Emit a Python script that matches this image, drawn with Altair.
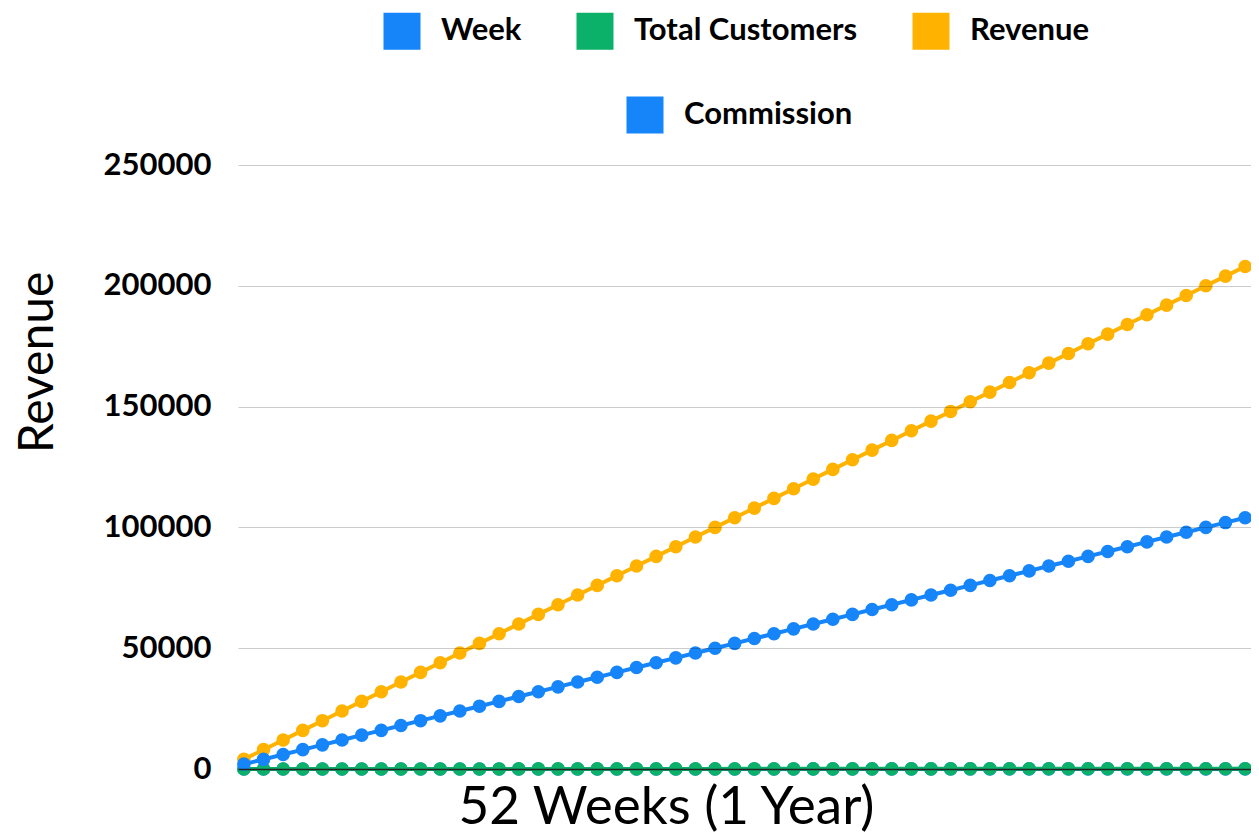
import altair as alt
import pandas as pd

weeks = [1, 2, 3, 4, 5, 6, 7, 8, 9, 10, 11, 12, 13, 14, 15, 16, 17, 18, 19, 20,
         21, 22, 23, 24, 25, 26, 27, 28, 29, 30, 31, 32, 33, 34, 35, 36, 37, 38, 39, 40,
         41, 42, 43, 44, 45, 46, 47, 48, 49, 50, 51, 52]
total_customers = [2, 4, 6, 8, 10, 12, 14, 16, 18, 20, 22, 24, 26, 28, 30, 32, 34, 36, 38, 40,
                   42, 44, 46, 48, 50, 52, 54, 56, 58, 60, 62, 64, 66, 68, 70, 72, 74, 76, 78, 80,
                   82, 84, 86, 88, 90, 92, 94, 96, 98, 100, 102, 104]
revenue = [4000, 8000, 12000, 16000, 20000, 24000, 28000, 32000, 36000, 40000,
           44000, 48000, 52000, 56000, 60000, 64000, 68000, 72000, 76000, 80000,
           84000, 88000, 92000, 96000, 100000, 104000, 108000, 112000, 116000, 120000,
           124000, 128000, 132000, 136000, 140000, 144000, 148000, 152000, 156000, 160000,
           164000, 168000, 172000, 176000, 180000, 184000, 188000, 192000, 196000, 200000,
           204000, 208000]
commission = [2000, 4000, 6000, 8000, 10000, 12000, 14000, 16000, 18000, 20000,
              22000, 24000, 26000, 28000, 30000, 32000, 34000, 36000, 38000, 40000,
              42000, 44000, 46000, 48000, 50000, 52000, 54000, 56000, 58000, 60000,
              62000, 64000, 66000, 68000, 70000, 72000, 74000, 76000, 78000, 80000,
              82000, 84000, 86000, 88000, 90000, 92000, 94000, 96000, 98000, 100000,
              102000, 104000]

series_a = ["Week", "Total Customers", "Revenue"]
colors_a = ["#1585F9", "#0CB169", "#FFB300"]
series_b = ["Commission"]
colors_b = ["#1585F9"]
y_ticks = [0, 50000, 100000, 150000, 200000, 250000]

rows = []
for name, vals in zip(series_a + series_b, [weeks, total_customers, revenue, commission]):
    for w, v in zip(weeks, vals):
        rows.append({"week": w, "series": name, "value": v})
df = pd.DataFrame(rows)

FONT = "Lato"

x_enc = alt.X(
    "week:O",
    scale=alt.Scale(type="point", padding=0.3),
    axis=alt.Axis(
        labels=False, ticks=False, grid=False, domain=True,
        domainColor="#222222", domainWidth=1.5, zindex=1,
        title="52 Weeks (1 Year)", titleFont=FONT, titleFontSize=53,
        titleFontWeight="normal", titleColor="#000000", titlePadding=12,
        titleX=428,
    ),
)
y_enc = alt.Y(
    "value:Q",
    scale=alt.Scale(domain=[0, 250000], nice=False),
    axis=alt.Axis(
        values=y_ticks, format="d", domain=False, ticks=False,
        labelFont=FONT, labelFontSize=31, labelFontWeight="bold", labelColor="#000000",
        labelPadding=27, gridColor="#000000", gridOpacity=0.2, gridWidth=1.2, zindex=1,
        title="Revenue", titleFont=FONT, titleFontSize=48, titleFontWeight="normal",
        titleColor="#000000", titleX=-176, titleY=197,
    ),
)

def legend(x, y):
    return alt.Legend(
        orient="none", legendX=x, legendY=y, direction="horizontal", title=None,
        symbolType="square", symbolSize=1370, symbolStrokeWidth=0,
        labelFont=FONT, labelFontSize=31, labelFontWeight="bold", labelColor="#000000",
        labelOffset=20, columnPadding=54, labelLimit=400,
    )

layer_a = alt.Chart(df).transform_filter(
    alt.FieldOneOfPredicate(field="series", oneOf=series_a)
).mark_line(
    strokeWidth=4,
    point=alt.OverlayMarkDef(filled=True, size=185, opacity=1),
).encode(
    x=x_enc, y=y_enc,
    color=alt.Color("series:N", scale=alt.Scale(domain=series_a, range=colors_a),
                    legend=legend(145, -153)),
)

layer_b = alt.Chart(df).transform_filter(
    alt.FieldOneOfPredicate(field="series", oneOf=series_b)
).mark_line(
    strokeWidth=4,
    point=alt.OverlayMarkDef(filled=True, size=185, opacity=1),
).encode(
    x=x_enc, y=y_enc,
    color=alt.Color("series:N", scale=alt.Scale(domain=series_b, range=colors_b),
                    legend=legend(388, -69)),
)

chart = alt.layer(layer_a, layer_b).resolve_scale(color="independent").properties(
    width=1013, height=604,
    autosize=alt.AutoSizeParams(type="none"),
    padding={"left": 230, "top": 157, "right": 0, "bottom": 66},
).configure_view(stroke=None)

chart.save("out.html", embed_options={"renderer": "svg", "actions": False})
